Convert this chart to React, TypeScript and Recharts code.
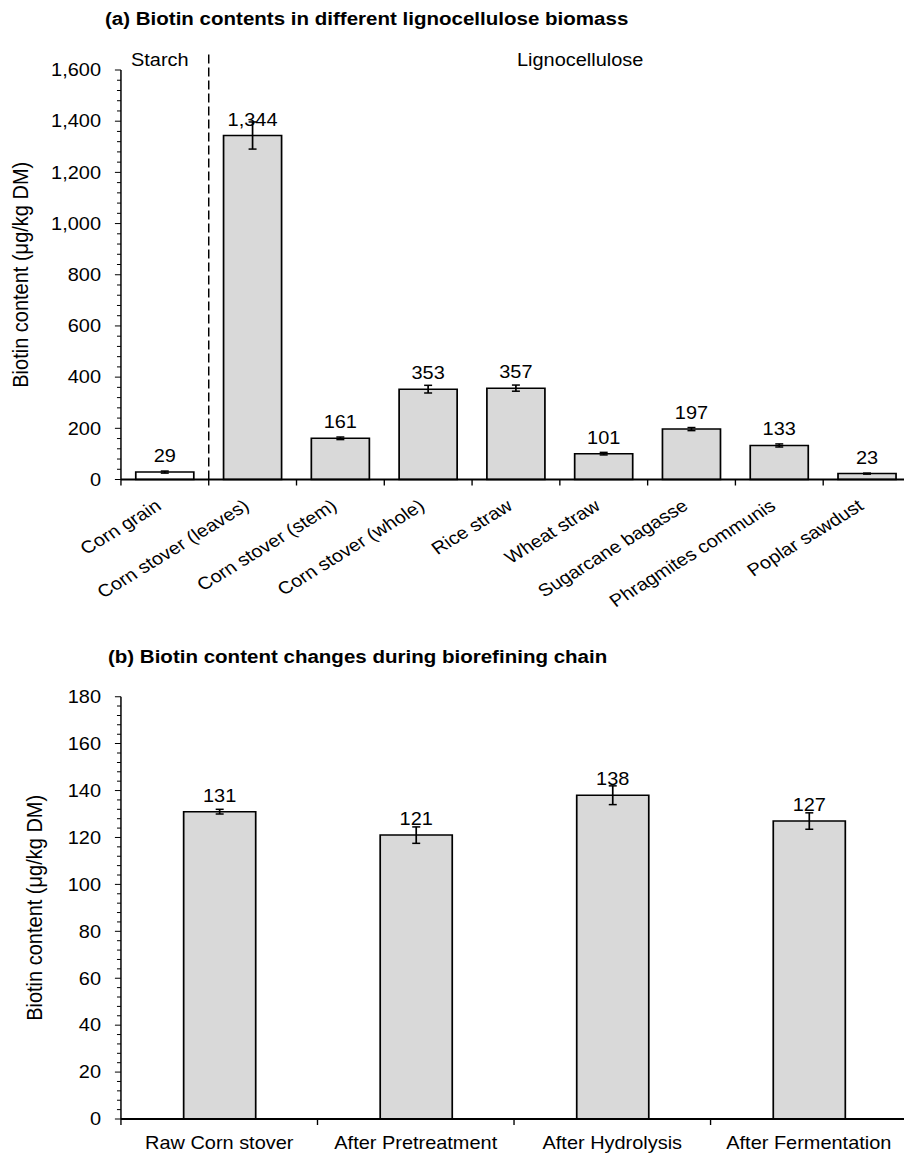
import React from "react";
import { BarChart, Bar, XAxis, YAxis, Cell, ErrorBar, LabelList, ReferenceLine } from "recharts";

const FONT = '"Liberation Sans", Arial, Helvetica, sans-serif';
// the source figure is a bit wider than tall-to-scale, so the whole thing is drawn narrow and stretched
const STRETCH = 1.14;

// (a) biotin in different biomass
const biomassNames = [
  "Corn grain",
  "Corn stover (leaves)",
  "Corn stover (stem)",
  "Corn stover (whole)",
  "Rice straw",
  "Wheat straw",
  "Sugarcane bagasse",
  "Phragmites communis",
  "Poplar sawdust",
];
const biomassGroup = ["Starch", "Lignocellulose", "Lignocellulose", "Lignocellulose", "Lignocellulose", "Lignocellulose", "Lignocellulose", "Lignocellulose", "Lignocellulose"];
const biomassBiotin = [29, 1344, 161, 353, 357, 101, 197, 133, 23];
const biomassSd = [4, 53, 5, 15, 12, 5, 6, 6, 2];
const biomassMajorTicks = [0, 200, 400, 600, 800, 1000, 1200, 1400, 1600];
const biomassMinorStep = 40;

// (b) biorefining chain
const stageNames = ["Raw Corn stover", "After Pretreatment", "After Hydrolysis", "After Fermentation"];
const stageBiotin = [131, 121, 138, 127];
const stageSd = [1, 3.5, 4, 3.5];
const stageMajorTicks = [0, 20, 40, 60, 80, 100, 120, 140, 160, 180];
const stageMinorStep = 4;

const Y_LABEL = "Biotin content (μg/kg DM)";

const withMinor = (major: number[], step: number) => {
  const out: number[] = [];
  for (let v = major[0]; v <= major[major.length - 1]; v += step) out.push(v);
  return out;
};

const dataA = biomassNames.map((name, i) => ({
  name,
  group: biomassGroup[i],
  biotin: biomassBiotin[i],
  sd: biomassSd[i],
}));
const dataB = stageNames.map((name, i) => ({ name, biotin: stageBiotin[i], sd: stageSd[i] }));

const FS = 17.5;
const AXIS_W = 106.1;
const BAND_A = 77.0;
const BAND_B = 172.4;

const makeYTick = (majorStep: number) => (props: any) => {
  const { x, y, payload } = props;
  const v = payload.value as number;
  const isMajor = v % majorStep === 0;
  return (
    <g>
      <line x1={x - (isMajor ? 5.3 : 3.5)} x2={x} y1={y} y2={y} stroke="#000" strokeWidth={1} />
      {isMajor && (
        <text x={x - 17.5} y={y} dy="0.36em" textAnchor="end" fontSize={FS} fill="#000">
          {v.toLocaleString("en-US")}
        </text>
      )}
    </g>
  );
};

function BiomassTick(props: any) {
  const { x, y, payload } = props;
  const bx = x - BAND_A / 2;
  return (
    <g>
      <line x1={bx} x2={bx} y1={y} y2={y + 6} stroke="#000" strokeWidth={1.2} />
      <text transform={`translate(${x - 2},${y + 29}) rotate(-35)`} textAnchor="end" fontSize={FS} fill="#000">
        {payload.value}
      </text>
    </g>
  );
}

function StageTick(props: any) {
  const { x, y, payload } = props;
  const bx = x - BAND_B / 2;
  return (
    <g>
      <line x1={bx} x2={bx} y1={y} y2={y + 6} stroke="#000" strokeWidth={1.2} />
      <text x={x} y={y + 24} dy="0.35em" textAnchor="middle" fontSize={FS} fill="#000">
        {payload.value}
      </text>
    </g>
  );
}

const fmt = (v: any) => Number(v).toLocaleString("en-US");

const titleStyle: React.CSSProperties = {
  position: "absolute",
  fontWeight: "bold",
  fontSize: 18,
  lineHeight: 1,
  whiteSpace: "nowrap",
  color: "#000",
};
const noteStyle: React.CSSProperties = {
  position: "absolute",
  fontSize: FS,
  lineHeight: 1,
  whiteSpace: "nowrap",
  color: "#000",
};

export default function App() {
  return (
    <div style={{ position: "absolute", left: 0, top: 0, width: 904, height: 1155, overflow: "hidden", background: "#fff" }}>
      <div
        style={{
          position: "relative",
          width: 904 / STRETCH,
          height: 1155,
          transform: `scaleX(${STRETCH})`,
          transformOrigin: "0 0",
          fontFamily: FONT,
        }}
      >
        <div style={{ ...titleStyle, left: 92.1, top: 9.5 }}>(a) Biotin contents in different lignocellulose biomass</div>
        <div style={{ ...noteStyle, left: 114.9, top: 52 }}>Starch</div>
        <div style={{ ...noteStyle, left: 453.5, top: 52 }}>Lignocellulose</div>

        <div style={{ position: "absolute", left: 0, top: 0 }}>
          <BarChart width={810} height={640} data={dataA} margin={{ top: 70, right: 10.9, bottom: 30.5, left: 0 }}>
            <XAxis
              dataKey="name"
              type="category"
              interval={0}
              height={130}
              tickSize={0}
              tickMargin={0}
              tickLine={false}
              tick={BiomassTick}
              axisLine={{ stroke: "#000", strokeWidth: 2 }}
            />
            <YAxis
              type="number"
              domain={[0, 1600]}
              ticks={withMinor(biomassMajorTicks, biomassMinorStep)}
              interval={0}
              width={AXIS_W}
              tickSize={0}
              tickMargin={0}
              tickLine={false}
              tick={makeYTick(200)}
              axisLine={{ stroke: "#000", strokeWidth: 1.3 }}
              label={{ value: Y_LABEL, angle: -90, position: "insideLeft", offset: 17.5, style: { textAnchor: "middle", fontSize: 20, fill: "#000" } }}
            />
            <ReferenceLine
              segment={[{ x: biomassNames[0], y: 0 }, { x: biomassNames[0], y: 1670 }]}
              position="end"
              ifOverflow="visible"
              stroke="#000"
              strokeWidth={1.3}
              strokeDasharray="9 4"
            />
            <Bar dataKey="biotin" barSize={50.9} stroke="#000" strokeWidth={1.5} isAnimationActive={false}>
              {dataA.map((d, i) => (
                <Cell key={i} fill={d.group === "Starch" ? "#ffffff" : "#d9d9d9"} />
              ))}
              <ErrorBar dataKey="sd" direction="y" width={3.5} stroke="#000" strokeWidth={1.5} isAnimationActive={false} />
              <LabelList dataKey="biotin" position="top" offset={10} fontSize={FS} fill="#000" formatter={fmt} />
            </Bar>
          </BarChart>
        </div>

        <div style={{ ...titleStyle, left: 94.7, top: 647.7 }}>(b) Biotin content changes during biorefining chain</div>

        <div style={{ position: "absolute", left: 0, top: 640 }}>
          <BarChart width={810} height={515} data={dataB} margin={{ top: 56.7, right: 14.3, bottom: 6, left: 0 }}>
            <XAxis
              dataKey="name"
              type="category"
              interval={0}
              height={30}
              tickSize={0}
              tickMargin={0}
              tickLine={false}
              tick={StageTick}
              axisLine={{ stroke: "#000", strokeWidth: 2 }}
            />
            <YAxis
              type="number"
              domain={[0, 180]}
              ticks={withMinor(stageMajorTicks, stageMinorStep)}
              interval={0}
              width={AXIS_W}
              tickSize={0}
              tickMargin={0}
              tickLine={false}
              tick={makeYTick(20)}
              axisLine={{ stroke: "#000", strokeWidth: 1.3 }}
              label={{ value: Y_LABEL, angle: -90, position: "insideLeft", offset: 29.8, style: { textAnchor: "middle", fontSize: 20, fill: "#000" } }}
            />
            <Bar dataKey="biotin" barSize={63.2} fill="#d9d9d9" stroke="#000" strokeWidth={1.5} isAnimationActive={false}>
              <ErrorBar dataKey="sd" direction="y" width={3.5} stroke="#000" strokeWidth={1.5} isAnimationActive={false} />
              <LabelList dataKey="biotin" position="top" offset={10} fontSize={FS} fill="#000" formatter={fmt} />
            </Bar>
          </BarChart>
        </div>
      </div>
    </div>
  );
}
